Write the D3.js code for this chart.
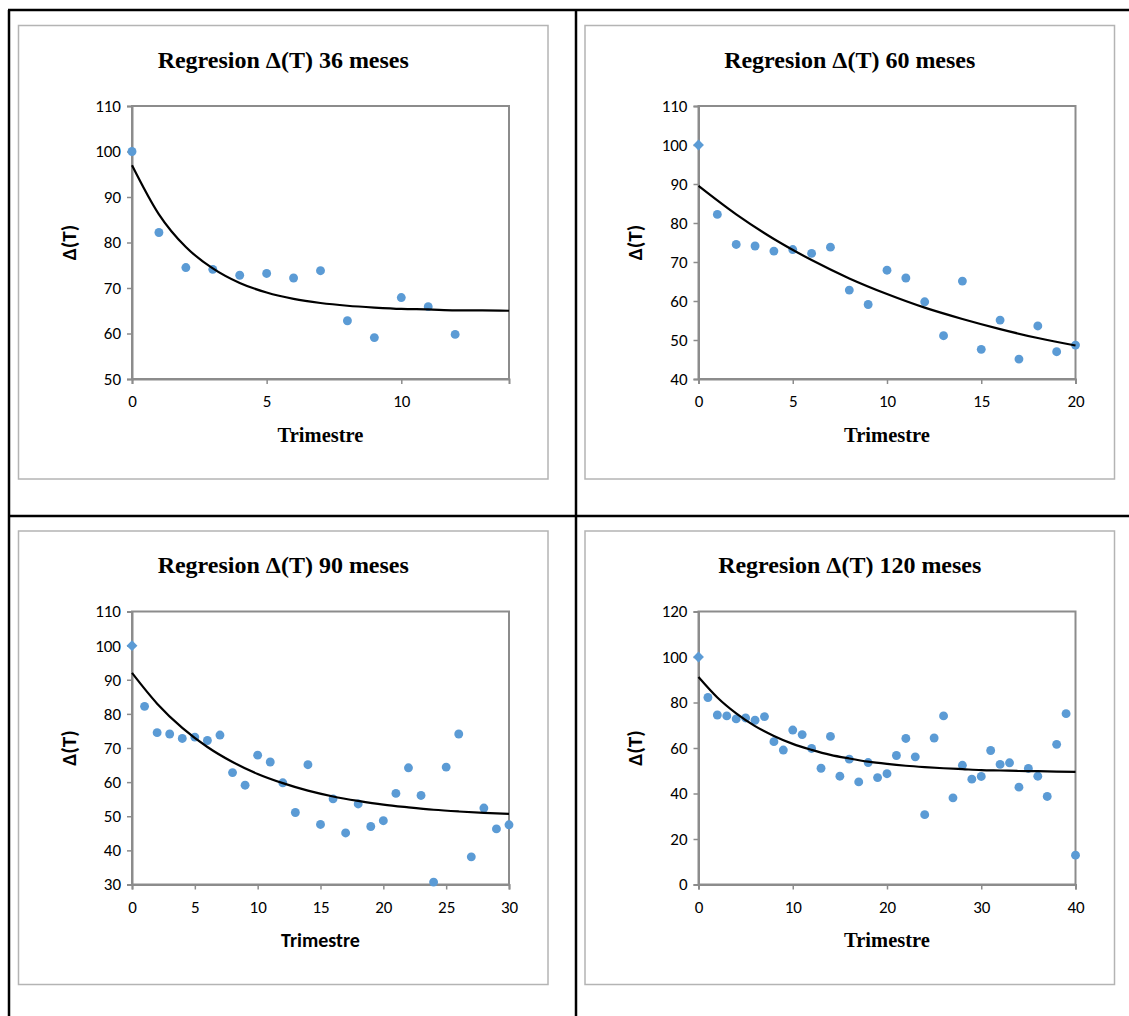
<!DOCTYPE html>
<html>
<head>
<meta charset="utf-8">
<script src="https://cdn.jsdelivr.net/npm/d3@7"></script>
<style>
  body { margin: 0; background: #fff; }
  text { fill: #000; }
</style>
</head>
<body>
<svg id="charts" width="1129" height="1016"></svg>
<script>
// Δ(T) por trimestre (serie completa, 0..40)
var deltaT = [100, 82.2, 74.5, 74.1, 72.8, 73.2, 72.2, 73.8, 62.8, 59.1,
              67.9, 65.9, 59.8, 51.1, 65.1, 47.6, 55.1, 45.1, 53.6, 47.0,
              48.7, 56.7, 64.2, 56.1, 30.7, 64.4, 74.1, 38.1, 52.4, 46.3,
              47.5, 58.9, 52.8, 53.5, 42.8, 51.0, 47.6, 38.7, 61.6, 75.1, 12.9];

var titles = ["Regresion \u0394(T) 36 meses", "Regresion \u0394(T) 60 meses",
              "Regresion \u0394(T) 90 meses", "Regresion \u0394(T) 120 meses"];
var nPoints = [13, 21, 31, 41];
var xMax = [14, 20, 30, 40];
var xTicks = [[0, 5, 10], [0, 5, 10, 15, 20], [0, 5, 10, 15, 20, 25, 30], [0, 10, 20, 30, 40]];
var yDomains = [[50, 110], [40, 110], [30, 110], [0, 120]];
var yStep = [10, 10, 10, 20];

// curva de regresion (paso en trimestres)
var fitStep = [1, 2, 2, 2];
var fit36 = [97.0, 86.2, 79.0, 74.3, 71.1, 69.0, 67.6, 66.7, 66.1, 65.7, 65.4, 65.3, 65.1, 65.1, 65.0];
var fit60 = [89.5, 82.2, 75.9, 70.5, 65.8, 61.8, 58.3, 55.4, 52.8, 50.5, 48.6];
var fit90 = [92.0, 83.0, 75.9, 70.3, 65.9, 62.4, 59.7, 57.5, 55.8, 54.5, 53.4, 52.6, 51.9, 51.4, 51.0, 50.7];
var fit120 = [91.2, 82.2, 75.2, 69.6, 65.3, 61.8, 59.2, 57.0, 55.4, 54.0, 53.0, 52.2, 51.6, 51.1,
              50.7, 50.3, 50.1, 49.9, 49.8, 49.6, 49.5];
var fits = [fit36, fit60, fit90, fit120];

var svg = d3.select("svg#charts");
var sans = "Carlito, 'Liberation Sans', Arial, sans-serif",
    serif = "'Liberation Serif', 'Times New Roman', serif";

svg.append("rect").attr("width", 1129).attr("height", 1016).attr("fill", "#fff");

// table lines
var grid = svg.append("g").attr("stroke", "#000").attr("stroke-width", 2.5);
grid.append("line").attr("x1", 8).attr("x2", 1129).attr("y1", 10).attr("y2", 10);
grid.append("line").attr("x1", 8).attr("x2", 1129).attr("y1", 516).attr("y2", 516);
grid.append("line").attr("x1", 9).attr("x2", 9).attr("y1", 10).attr("y2", 1016);
grid.append("line").attr("x1", 576).attr("x2", 576).attr("y1", 10).attr("y2", 1016);

var frameX = [18.5, 585, 18.5, 585],
    frameY = [25.5, 25.5, 531, 531],
    frameW = 529.5, frameH = 453.5;
var plotW = 377, plotH = 273;

titles.forEach(function(title, k) {
  var g = svg.append("g").attr("transform", "translate(" + frameX[k] + "," + frameY[k] + ")");

  g.append("rect")
    .attr("width", frameW).attr("height", frameH)
    .attr("fill", "#fff").attr("stroke", "#b4b4b4").attr("stroke-width", 1.5);

  g.append("text")
    .attr("x", frameW / 2).attr("y", 42)
    .attr("text-anchor", "middle")
    .style("font-family", serif).style("font-weight", "bold").style("font-size", "24px")
    .text(title);

  var p = g.append("g").attr("transform", "translate(113.5,80.5)");

  var x = d3.scaleLinear().domain([0, xMax[k]]).range([0, plotW]);
  var y = d3.scaleLinear().domain(yDomains[k]).range([plotH, 0]);

  p.append("rect")
    .attr("width", plotW).attr("height", plotH)
    .attr("fill", "none").attr("stroke", "#8c8c8c").attr("stroke-width", 2);

  var yAxis = p.append("g")
    .call(d3.axisLeft(y).tickValues(d3.range(yDomains[k][0], yDomains[k][1] + 1, yStep[k]))
          .tickSize(5).tickPadding(6));
  var xAxis = p.append("g").attr("transform", "translate(0," + plotH + ")")
    .call(d3.axisBottom(x).tickValues(xTicks[k]).tickSize(5).tickPadding(11));

  [xAxis, yAxis].forEach(function(a) {
    a.select(".domain").attr("stroke", "#8c8c8c").attr("stroke-width", 2);
    a.selectAll(".tick line").attr("stroke", "#8c8c8c").attr("stroke-width", 1.5);
    a.selectAll(".tick text").attr("fill", "#000")
      .style("font-family", sans).style("font-size", "17px");
  });

  g.append("text")
    .attr("transform", "translate(57," + (80.5 + plotH / 2) + ") rotate(-90)")
    .attr("text-anchor", "middle")
    .style("font-family", sans).style("font-weight", "bold").style("font-size", "21px")
    .text("\u0394(T)");

  g.append("text")
    .attr("x", 113.5 + plotW / 2).attr("y", 416)
    .attr("text-anchor", "middle")
    .style("font-family", k === 2 ? sans : serif).style("font-weight", "bold")
    .style("font-size", k === 2 ? "20px" : "20.5px")
    .text("Trimestre");

  // puntos
  var pts = deltaT.slice(0, nPoints[k]).map(function(v, i) { return [i, v]; });
  p.selectAll(".dot").data(pts).enter().append("path")
    .attr("class", "dot")
    .attr("transform", function(d) { return "translate(" + x(d[0]) + "," + y(d[1]) + ")"; })
    .attr("d", function(d) {
      var diamond = d[0] === 0 && k > 0;
      return d3.symbol().type(diamond ? d3.symbolDiamond2 : d3.symbolCircle).size(diamond ? 75 : 62)();
    })
    .attr("fill", "#5b9bd5");

  // curva de regresion
  var fit = fits[k].map(function(v, i) { return [i * fitStep[k], v]; });
  p.append("path")
    .datum(fit)
    .attr("fill", "none").attr("stroke", "#000").attr("stroke-width", 2.2)
    .attr("d", d3.line()
      .x(function(d) { return x(d[0]); })
      .y(function(d) { return y(d[1]); })
      .curve(d3.curveMonotoneX));
});
</script>
</body>
</html>
